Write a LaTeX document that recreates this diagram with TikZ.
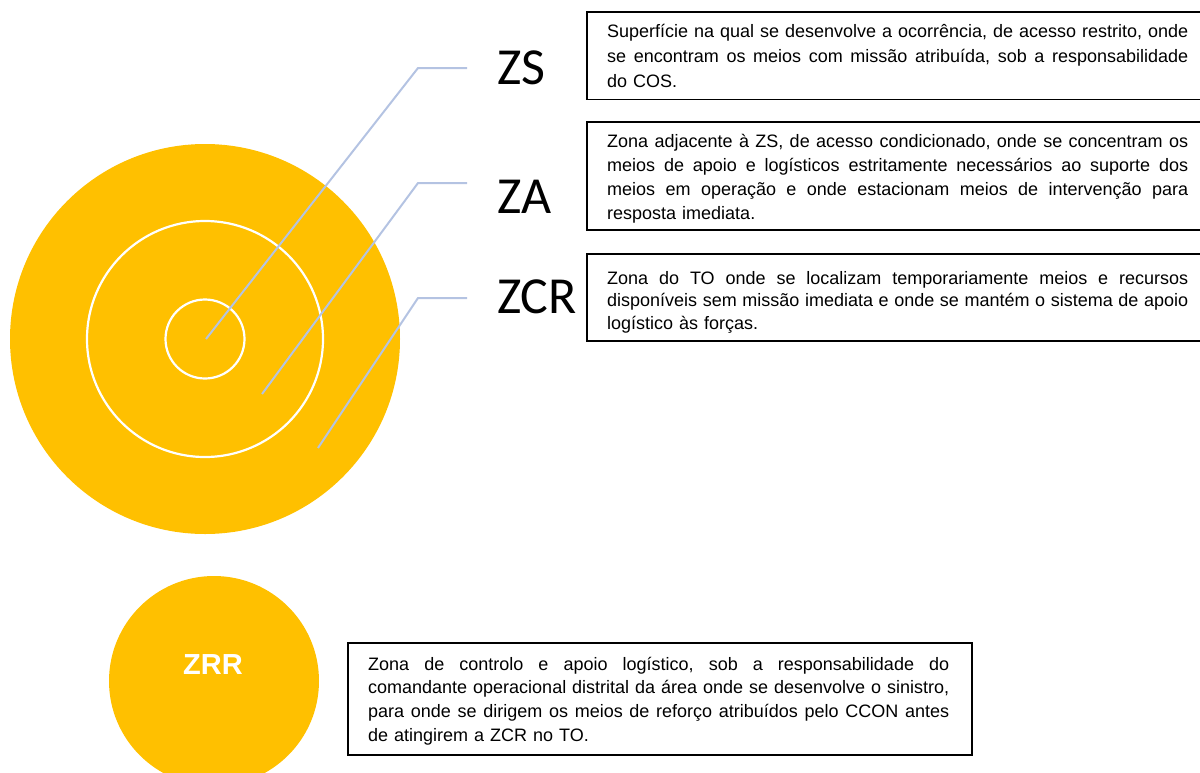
\documentclass[tikz,border=0pt]{standalone}
\usepackage{fontspec}
\setmainfont{Liberation Sans}
\newfontfamily\zfont{Carlito}
\definecolor{zyellow}{HTML}{FFC000}
\definecolor{leadercol}{HTML}{B4C3E2}
\newlength{\tw}
\setlength{\tw}{581pt}
\newcommand{\jl}[1]{{\frenchspacing\spaceskip=0.278em plus 1fil minus 0.1em\makebox[\tw][s]{#1}}}
\begin{document}
\begin{tikzpicture}[x=1pt,y=-1pt,
  disc/.style={circle, fill=zyellow, inner sep=0pt},
  ring/.style={circle, draw=white, line width=2.2pt, inner sep=0pt},
  leader/.style={draw=leadercol, line width=2pt},
  zlabel/.style={font=\zfont\fontsize{52}{60}\selectfont, inner sep=0pt, anchor=base west},
  frame/.style={draw=black, line width=1.6pt, inner sep=0pt, anchor=north west},
  desc/.style={text width=\tw, align=left, inner sep=0pt, anchor=base west}]
\useasboundingbox (0,0) rectangle (1200,772);
% target
\node[disc, minimum size=390pt] (outer) at (205,339) {};
\node[ring, minimum size=236pt] (middle) at (205,339) {};
\node[ring, minimum size=79pt] (inner) at (205,339) {};
% labels
\node[zlabel] (zs) at (497,84) {ZS};
\node[zlabel] (za) at (497,213) {ZA};
\node[zlabel] (zcr) at (497,313) {ZCR};
% leaders
\coordinate (zsStart) at (206,339);
\coordinate (zsElbow) at (418,68);
\coordinate (zsEnd) at (467,68);
\coordinate (zaStart) at (262,394);
\coordinate (zaElbow) at (418,183);
\coordinate (zaEnd) at (467,183);
\coordinate (zcrStart) at (318,448);
\coordinate (zcrElbow) at (418,298);
\coordinate (zcrEnd) at (467,298);
\draw[leader] (zsStart) -- (zsElbow) -- (zsEnd);
\draw[leader] (zaStart) -- (zaElbow) -- (zaEnd);
\draw[leader] (zcrStart) -- (zcrElbow) -- (zcrEnd);
% boxes
\node[frame, minimum width=624pt, minimum height=87.5pt] (box1) at (586,11) {};
\node[frame, minimum width=624pt, minimum height=108pt] (box2) at (586,121) {};
\node[frame, minimum width=624pt, minimum height=87pt] (box3) at (586,253) {};
\node[frame, minimum width=624pt, minimum height=112pt] (box4) at (347,642) {};
\node[desc, font=\fontsize{18}{25.2}\selectfont] (t1) at (607,37) {\jl{Superfície na qual se desenvolve a ocorrência, de acesso restrito, onde}\\
\jl{se encontram os meios com missão atribuída, sob a responsabilidade}\\
do COS.};
\node[desc, font=\fontsize{18}{24}\selectfont] (t2) at (607,147) {\jl{Zona adjacente à ZS, de acesso condicionado, onde se concentram os}\\
\jl{meios de apoio e logísticos estritamente necessários ao suporte dos}\\
\jl{meios em operação e onde estacionam meios de intervenção para}\\
resposta imediata.};
\node[desc, font=\fontsize{18}{22.5}\selectfont] (t3) at (607,284) {\jl{Zona do TO onde se localizam temporariamente meios e recursos}\\
\jl{disponíveis sem missão imediata e onde se mantém o sistema de apoio}\\
logístico às forças.};
% ZRR
\node[disc, minimum size=210pt] (zrr) at (214,681) {};
\node[font=\bfseries\fontsize{29}{32}\selectfont, text=white, inner sep=0pt] (zrrlabel) at (213,665) {ZRR};
\node[desc, font=\fontsize{18}{23.8}\selectfont] (t4) at (368,670) {\jl{Zona de controlo e apoio logístico, sob a responsabilidade do}\\
\jl{comandante operacional distrital da área onde se desenvolve o sinistro,}\\
\jl{para onde se dirigem os meios de reforço atribuídos pelo CCON antes}\\
de atingirem a ZCR no TO.};
\end{tikzpicture}
\end{document}
